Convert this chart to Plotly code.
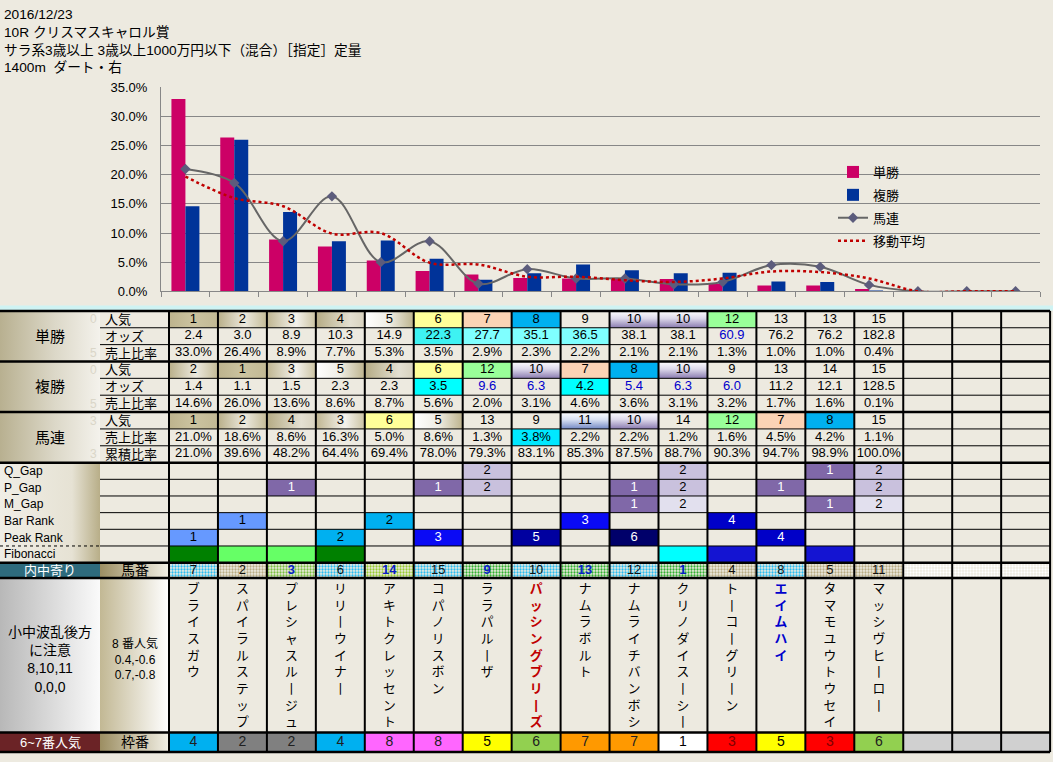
import plotly.graph_objects as go

# ======================= DATA =======================
RACE_DATE = "2016/12/23"
RACE_TITLE = "10R クリスマスキャロル賞"
RACE_CLASS = "サラ系3歳以上 3歳以上1000万円以下（混合）［指定］定量"
RACE_COURSE = "1400m\u00a0\u00a0ダート・右"

HORSE_NAMES = ["ブライスガウ", "スパイラルステップ", "プレシャスルージュ", "リリーウイナー",
               "アキトクレッセント", "コパノリスボン", "ララパルーザ", "パッシングブリーズ",
               "ナムラボルト", "ナムライチバンボシ", "クリノダイスーシー", "トーコーグリーン",
               "エイムハイ", "タマモユウトウセイ", "マッシヴヒーロー"]
SLOTS = [str(i) for i in range(1, 19)]          # 15 horses + 3 empty slots

TAN_POP = [1, 2, 3, 4, 5, 6, 7, 8, 9, 10, 10, 12, 13, 13, 15]
TAN_ODDS = [2.4, 3.0, 8.9, 10.3, 14.9, 22.3, 27.7, 35.1, 36.5, 38.1, 38.1, 60.9, 76.2, 76.2, 182.8]
TAN_RATIO = [33.0, 26.4, 8.9, 7.7, 5.3, 3.5, 2.9, 2.3, 2.2, 2.1, 2.1, 1.3, 1.0, 1.0, 0.4]

FUKU_POP = [2, 1, 3, 5, 4, 6, 12, 10, 7, 8, 10, 9, 13, 14, 15]
FUKU_ODDS = [1.4, 1.1, 1.5, 2.3, 2.3, 3.5, 9.6, 6.3, 4.2, 5.4, 6.3, 6.0, 11.2, 12.1, 128.5]
FUKU_RATIO = [14.6, 26.0, 13.6, 8.6, 8.7, 5.6, 2.0, 3.1, 4.6, 3.6, 3.1, 3.2, 1.7, 1.6, 0.1]

UMAREN_POP = [1, 2, 4, 3, 6, 5, 13, 9, 11, 10, 14, 12, 7, 8, 15]
UMAREN_RATIO = [21.0, 18.6, 8.6, 16.3, 5.0, 8.6, 1.3, 3.8, 2.2, 2.2, 1.2, 1.6, 4.5, 4.2, 1.1]
UMAREN_CUM = [21.0, 39.6, 48.2, 64.4, 69.4, 78.0, 79.3, 83.1, 85.3, 87.5, 88.7, 90.3, 94.7, 98.9, 100.0]
UMAREN_EMPTY = [0.0, 0.0, 0.0]                   # plotted values of the 3 empty slots
MOVING_AVG = [19.7, 16.0, 14.6, 9.9, 10.0, 4.9, 4.6, 2.5, 2.5, 1.9, 1.6, 2.2, 3.4, 3.3, 2.2, 0.0, 0.0, 0.0]

Q_GAP = [None, None, None, None, None, None, 2, None, None, None, 2, None, None, 1, 2]
P_GAP = [None, None, 1, None, None, 1, 2, None, None, 1, 2, None, 1, None, 2]
M_GAP = [None, None, None, None, None, None, None, None, None, 1, 2, None, None, 1, 2]
BAR_RANK = [None, 1, None, None, 2, None, None, None, 3, None, None, 4, None, None, None]
PEAK_RANK = [1, None, None, 2, None, 3, None, 5, None, 6, None, None, 4, None, None]
FIBONACCI = [1, 2, 2, 1, 0, 0, 0, 0, 0, 0, 3, 4, 0, 4, 0]

UMABAN = [7, 2, 3, 6, 14, 15, 9, 10, 13, 12, 1, 4, 8, 5, 11]
WAKU = [4, 2, 2, 4, 8, 8, 5, 6, 7, 7, 1, 3, 5, 3, 6]

NOTE_LEFT = ["小中波乱後方", "に注意", "8,10,11", "0,0,0"]
NOTE_MID = ["8 番人気", "0.4,-0.6", "0.7,-0.8"]

# ======================= STYLE / LAYOUT =======================
W, H = 1053, 762
BG = "#EDEAE0"
GRID = "#878787"
JP = "Noto Sans CJK JP"
LAT = "Liberation Sans"
MIX = "Liberation Sans, Noto Sans CJK JP"

COL0_PX, COLW_PX = 169.0, 48.95
X_MIN = -COL0_PX / COLW_PX
X_MAX = (W - COL0_PX) / COLW_PX
X_LBL_B = (100 - COL0_PX) / COLW_PX
NCOL = 18

ROW_H_TOP, ROW_H_GAP = 17.2, 17.0
TOP_EDGES = [310 + ROW_H_TOP * i for i in range(10)]
GAP_EDGES = [TOP_EDGES[-1] + ROW_H_GAP * i for i in range(7)]
UMABAN_ROW = (GAP_EDGES[-1], 582.5)
NAME_ROW = (582.5, 740.0)
WAKU_ROW = (740.0, 760.0)

POP_FILL = {
    1: ("h", [[0, "#BDB38D"], [0.5, "#CBC3A0"], [1, "#C2B994"]]),
    2: ("h", [[0, "#B9AF89"], [0.55, "#ECE9DE"], [1, "#C4BB96"]]),
    3: ("h", [[0, "#BFB590"], [0.6, "#F4F2EC"], [1, "#CBC3A2"]]),
    4: ("h", [[0, "#B5AB84"], [0.7, "#E4E0D2"], [1, "#D8D2BE"]]),
    5: ("h", [[0, "#FFFFFF"], [0.5, "#EFEDE4"], [1, "#BDB38D"]]),
    6: "#FFFF99", 7: "#FBD3B5", 8: "#00B0F0",
    10: ("v", [[0, "#8A7BB0"], [0.55, "#DCD8EA"], [1, "#FFFFFF"]]),
    11: ("v", [[0, "#7489C4"], [0.55, "#D8E0F2"], [1, "#FFFFFF"]]),
    12: "#99FF99",
}
TAN_ODDS_FILL = {5: "#3EF2F2", 6: "#7FFFFF", 7: "#7FFFFF", 8: "#7FFFFF"}
TAN_ODDS_BLUE = {11}
FUKU_ODDS_FILL = {5: "#00FFFF", 8: "#00FFFF"}
FUKU_ODDS_BLUE = {6, 7, 9, 10, 11}
UMAREN_RATIO_FILL = {7: "#00E8FF"}

GAP_STYLE = {1: ("#8068A8", "white"), 2: ("#C9C1DD", "black")}
MGAP_STYLE = {1: ("#8068A8", "white"), 2: ("#E2E0EE", "black")}
RANK_STYLE = {1: ("#6699FF", "black"), 2: ("#00B0F0", "black"), 3: ("#0A0AF5", "white"),
              4: ("#0000C8", "white"), 5: ("#0000A0", "white"), 6: ("#00006A", "white")}
FIB_STYLE = {1: "#008000", 2: "#66FF66", 3: "#00FFFF", 4: "#1414D2"}

UMABAN_STYLE = ["cyan", "tan", "green2", "cyan", "green3", "cyan", "green", "cyan",
                "green", "cyan", "green", "tan", "cyan", "tan", "tan"]
PAT = {"cyan": ("#28BCF0", "#D8F4FF"), "tan": ("#B8AC84", "#ECE8DC"),
       "green": ("#30B030", "#A0E890"), "green2": ("#78C040", "#D0F0B0"),
       "green3": ("#98CC30", "#E0F4A0"), "empty": ("#FFFFFF", "#C0C0C0")}
WAKU_COLOR = {1: ("#FFFFFF", "black"), 2: ("#808080", "#202020"), 3: ("#FF0000", "#800000"),
              4: ("#00B0F0", "#202020"), 5: ("#FFFF00", "black"), 6: ("#92D050", "#202020"),
              7: ("#FF9900", "#202020"), 8: ("#FF66FF", "#202020")}
NAME_STYLE = {7: ("#C00000", True), 12: ("#0000CC", True)}

fig = go.Figure()

# ======================= CHART =======================
fig.add_trace(go.Bar(name="単勝", legendgroup="a", x=SLOTS[:len(TAN_RATIO)], y=TAN_RATIO,
                     marker=dict(color="#CC0066", line=dict(width=0)), hoverinfo="skip"))
fig.add_trace(go.Bar(name="複勝", legendgroup="b", x=SLOTS[:len(FUKU_RATIO)], y=FUKU_RATIO,
                     marker=dict(color="#003399", line=dict(width=0)), hoverinfo="skip"))
fig.add_trace(go.Scatter(name="馬連", legendgroup="c", x=SLOTS, y=UMAREN_RATIO + UMAREN_EMPTY,
                         mode="lines+markers",
                         line=dict(color="#666666", width=2, shape="spline"),
                         marker=dict(symbol="diamond", size=8, color="#5C5C7C"), hoverinfo="skip"))
fig.add_trace(go.Scatter(name="移動平均", legendgroup="d", x=SLOTS, y=MOVING_AVG, mode="lines",
                         line=dict(color="#C00000", width=2.5, dash="dot", shape="spline"),
                         hoverinfo="skip"))

# ======================= TABLE helpers =======================
shapes = []
annos = []


def rect(x0, x1, y0, y1, fill):
    if fill is None:
        return
    if isinstance(fill, str):
        shapes.append(dict(type="rect", xref="x2", yref="y2", x0=x0, x1=x1, y0=y0, y1=y1,
                           fillcolor=fill, line=dict(width=0), layer="below"))
    else:
        orient, scale = fill
        fig.add_trace(go.Scatter(x=[x0, x1, x1, x0, x0], y=[y0, y0, y1, y1, y0],
                                 xaxis="x2", yaxis="y2", mode="lines",
                                 line=dict(width=0, color="rgba(0,0,0,0)"), fill="toself",
                                 fillgradient=dict(type="horizontal" if orient == "h" else "vertical",
                                                   colorscale=scale),
                                 hoverinfo="skip", showlegend=False))


def text_row(texts, colors, yc, size=13, family=LAT):
    xs = [i + 0.5 for i, t in enumerate(texts) if t is not None]
    ts = [t for t in texts if t is not None]
    cs = [c for t, c in zip(texts, colors) if t is not None]
    fig.add_trace(go.Scatter(x=xs, y=[yc] * len(xs), xaxis="x2", yaxis="y2", mode="text",
                             text=ts, textposition="middle center",
                             textfont=dict(family=family, size=size, color=cs),
                             hoverinfo="skip", showlegend=False))


def label(x, y, txt, size=13, color="black", xanchor="center", family=MIX, align="center"):
    annos.append(dict(xref="x2", yref="y2", x=x, y=y, text=txt, showarrow=False, align=align,
                      xanchor=xanchor, yanchor="middle", font=dict(family=family, size=size, color=color)))


def hline(y, x0, x1, width=1, dash="solid"):
    shapes.append(dict(type="line", xref="x2", yref="y2", x0=x0, x1=x1, y0=y, y1=y,
                       line=dict(color="black", width=width, dash=dash), layer="above"))


LBL_A_C = (X_MIN + X_LBL_B) / 2
LBL_B_C = X_LBL_B / 2

# cyan band between chart and table
shapes.append(dict(type="rect", xref="x2", yref="y2", x0=X_MIN, x1=X_MAX, y0=304.5, y1=309.5,
                   fillcolor="#CFF3F3", line=dict(width=0), layer="below"))

# ---------- top three groups ----------
LEFT_GRAD = ("h", [[0, "#B8B090"], [0.55, "#DCD8C8"], [1, "#F4F2EC"]])
groups = [
    ("単勝", [("人気", TAN_POP, "pop", None, set()), ("オッズ", TAN_ODDS, "odds", TAN_ODDS_FILL, TAN_ODDS_BLUE),
              ("売上比率", TAN_RATIO, "pct", {}, set())], ("0", None, "5")),
    ("複勝", [("人気", FUKU_POP, "pop", None, set()), ("オッズ", FUKU_ODDS, "odds", FUKU_ODDS_FILL, FUKU_ODDS_BLUE),
              ("売上比率", FUKU_RATIO, "pct", {}, set())], ("0", None, "5")),
    ("馬連", [("人気", UMAREN_POP, "pop", None, set()), ("売上比率", UMAREN_RATIO, "pct", UMAREN_RATIO_FILL, set()),
              ("累積比率", UMAREN_CUM, "pct", {}, set())], ("3", None, "3")),
]
r = 0
for gname, rows, faint in groups:
    g0, g1 = TOP_EDGES[r], TOP_EDGES[r + 3]
    rect(X_MIN, X_LBL_B, g0, g1, LEFT_GRAD)
    label(LBL_A_C, (g0 + g1) / 2, gname, size=15)
    for k, (rname, vals, kind, fills, blues) in enumerate(rows):
        y0, y1 = TOP_EDGES[r], TOP_EDGES[r + 1]
        yc = (y0 + y1) / 2
        label(X_LBL_B + 0.06, yc, rname, size=13, xanchor="left")
        if faint[k]:
            label(X_LBL_B - 0.03, yc, faint[k], size=12, color="#DAD6C8", xanchor="right", family=LAT)
        texts, colors = [], []
        for i, v in enumerate(vals):
            if kind == "pop":
                rect(i, i + 1, y0, y1, POP_FILL.get(v))
                texts.append(str(v))
            elif kind == "odds":
                rect(i, i + 1, y0, y1, fills.get(i))
                texts.append(f"{v:.1f}")
            else:
                rect(i, i + 1, y0, y1, fills.get(i))
                texts.append(f"{v:.1f}%")
            colors.append("#0000CC" if i in blues else "black")
        text_row(texts, colors, yc)
        r += 1

# ---------- gap / rank rows ----------
rect(X_MIN, X_LBL_B, GAP_EDGES[0], GAP_EDGES[-1],
     ("h", [[0, "#F0EEE6"], [0.72, "#E6E2D4"], [1, "#B8AE88"]]))
gap_rows = [("Q_Gap", Q_GAP, GAP_STYLE), ("P_Gap", P_GAP, GAP_STYLE), ("M_Gap", M_GAP, MGAP_STYLE),
            ("Bar Rank", BAR_RANK, RANK_STYLE), ("Peak Rank", PEAK_RANK, RANK_STYLE)]
for k, (rname, vals, style) in enumerate(gap_rows):
    y0, y1 = GAP_EDGES[k], GAP_EDGES[k + 1]
    yc = (y0 + y1) / 2
    label(X_MIN + 0.04, yc, rname, size=12, xanchor="left", family=LAT)
    texts, colors = [], []
    for i, v in enumerate(vals):
        if v is None:
            texts.append(None)
            colors.append("black")
        else:
            f, c = style[v]
            rect(i, i + 1, y0, y1, f)
            texts.append(str(v))
            colors.append(c)
    text_row(texts, colors, yc)
y0, y1 = GAP_EDGES[5], GAP_EDGES[6]
label(X_MIN + 0.04, (y0 + y1) / 2, "Fibonacci", size=12, xanchor="left", family=LAT)
for i, v in enumerate(FIBONACCI):
    if v:
        rect(i, i + 1, y0, y1, FIB_STYLE[v])

# ---------- 馬番 row ----------
y0, y1 = UMABAN_ROW
rect(X_MIN, X_LBL_B, y0, y1, "#2E6B7D")
label(LBL_A_C, (y0 + y1) / 2, "内中寄り", size=13, color="white")
rect(X_LBL_B, 0, y0, y1, ("h", [[0, "#9C8E62"], [1, "#F2F0E6"]]))
label(LBL_B_C, (y0 + y1) / 2, "馬番", size=14)
styles = UMABAN_STYLE + ["empty"] * (NCOL - len(UMABAN))
fig.add_trace(go.Bar(x=[i + 0.5 for i in range(NCOL)], y=[y1 - y0] * NCOL, base=[y0] * NCOL,
                     width=[1] * NCOL, xaxis="x2", yaxis="y2", showlegend=False, hoverinfo="skip",
                     marker=dict(color=[PAT[s][0] for s in styles], line=dict(width=0),
                                 pattern=dict(shape=".", bgcolor=[PAT[s][0] for s in styles],
                                              fgcolor=[PAT[s][1] for s in styles],
                                              size=3, solidity=0.45, fillmode="replace"))))
text_row([f"<b>{n}</b>" if s.startswith("green") else str(n) for n, s in zip(UMABAN, UMABAN_STYLE)],
         ["#0A1EC8" if s.startswith("green") else "#101010" for s in UMABAN_STYLE], (y0 + y1) / 2)

# ---------- names row ----------
y0, y1 = NAME_ROW
rect(X_MIN, X_LBL_B, y0, y1, ("h", [[0, "#B8B8B8"], [1, "#FAFAFA"]]))
rect(X_LBL_B, 0, y0, y1, ("h", [[0, "#C2B894"], [1, "#FFFFFF"]]))
label(LBL_A_C, 666, "<br>".join(NOTE_LEFT), size=14)
label(LBL_B_C, 665, "<br>".join(NOTE_MID), size=12)
name_txt, name_col = [], []
for i, nm in enumerate(HORSE_NAMES):
    col, bold = NAME_STYLE.get(i, ("black", False))
    t = "<br>".join("丨" if ch == "ー" else ch for ch in nm)
    name_txt.append(f"<b>{t}</b>" if bold else t)
    name_col.append(col)
fig.add_trace(go.Scatter(x=[i + 0.5 for i in range(len(HORSE_NAMES))], y=[y0 + 5.5] * len(HORSE_NAMES),
                         xaxis="x2", yaxis="y2", mode="text", text=name_txt, textposition="bottom center",
                         textfont=dict(family=MIX, size=12.8, color=name_col),
                         hoverinfo="skip", showlegend=False))

# ---------- 枠番 row ----------
y0, y1 = WAKU_ROW
rect(X_MIN, X_LBL_B, y0, y1, "#6B2326")
label(LBL_A_C, (y0 + y1) / 2, "6~7番人気", size=13, color="white")
rect(X_LBL_B, 0, y0, y1, ("h", [[0, "#9C8E62"], [1, "#F2F0E6"]]))
label(LBL_B_C, (y0 + y1) / 2, "枠番", size=14)
for i in range(NCOL):
    if i < len(WAKU):
        rect(i, i + 1, y0, y1, WAKU_COLOR[WAKU[i]][0])
    else:
        rect(i, i + 1, y0, y1, "#D0D0D0")
text_row([str(w) for w in WAKU], [WAKU_COLOR[w][1] for w in WAKU], (y0 + y1) / 2, size=14)

# ---------- grid lines ----------
for e in [TOP_EDGES[1], TOP_EDGES[2], TOP_EDGES[4], TOP_EDGES[5], TOP_EDGES[7], TOP_EDGES[8]] + GAP_EDGES[1:5]:
    hline(e, X_LBL_B, NCOL, 1)
hline(GAP_EDGES[5], X_LBL_B, NCOL, 1)
hline(GAP_EDGES[5], X_MIN, X_LBL_B, 1, "dot")
for e in [TOP_EDGES[0], TOP_EDGES[3], TOP_EDGES[6], TOP_EDGES[9], UMABAN_ROW[0], UMABAN_ROW[1],
          NAME_ROW[1], WAKU_ROW[1]]:
    hline(e, X_MIN, NCOL, 2.5)
for k in range(NCOL + 1):
    shapes.append(dict(type="line", xref="x2", yref="y2", x0=k, x1=k, y0=TOP_EDGES[0], y1=WAKU_ROW[1],
                       line=dict(color="black", width=2), layer="above"))

# ---------- header ----------
annos.append(dict(xref="paper", yref="paper", x=2 / W, y=1 - 35 / H,
                  text="<br>".join([RACE_DATE, RACE_TITLE, RACE_CLASS, RACE_COURSE]),
                  showarrow=False, xanchor="left", yanchor="middle", align="left",
                  font=dict(family=MIX, size=13.7, color="black")))

fig.update_layout(
    width=W, height=H, autosize=False, margin=dict(l=0, r=0, t=0, b=0, pad=0),
    paper_bgcolor=BG, plot_bgcolor="rgba(0,0,0,0)",
    barmode="group", bargap=0.427, bargroupgap=0,
    font=dict(family=MIX, size=13, color="black"),
    showlegend=True,
    legend=dict(x=833 / W, y=1 - 153 / H, xanchor="left", yanchor="top", bgcolor="rgba(0,0,0,0)",
                font=dict(family=JP, size=13, color="black"), traceorder="grouped",
                tracegroupgap=3, itemwidth=30),
    xaxis=dict(domain=[161 / W, 1040 / W], type="category", categoryorder="array", categoryarray=SLOTS,
               range=[-0.5, 17.5], showticklabels=False, ticks="outside", ticklen=5, tickcolor=GRID,
               tickson="boundaries", showline=True, linecolor=GRID, showgrid=False, zeroline=False,
               fixedrange=True, anchor="y"),
    yaxis=dict(domain=[1 - 290 / H, 1 - 82 / H], range=[0, 35], dtick=5, tick0=0, tickformat=".1f",
               ticksuffix="%", showgrid=True, gridcolor=GRID, gridwidth=1, showline=True, linecolor=GRID,
               zeroline=False, ticks="", ticklabelstandoff=10,
               tickfont=dict(family=LAT, size=13, color="black"), fixedrange=True, anchor="x"),
    xaxis2=dict(domain=[0, 1], range=[X_MIN, X_MAX], visible=False, anchor="y2", fixedrange=True),
    yaxis2=dict(domain=[0, 1], range=[H, 0], visible=False, anchor="x2", fixedrange=True),
    shapes=shapes, annotations=annos,
)

fig.write_html("out.html")
